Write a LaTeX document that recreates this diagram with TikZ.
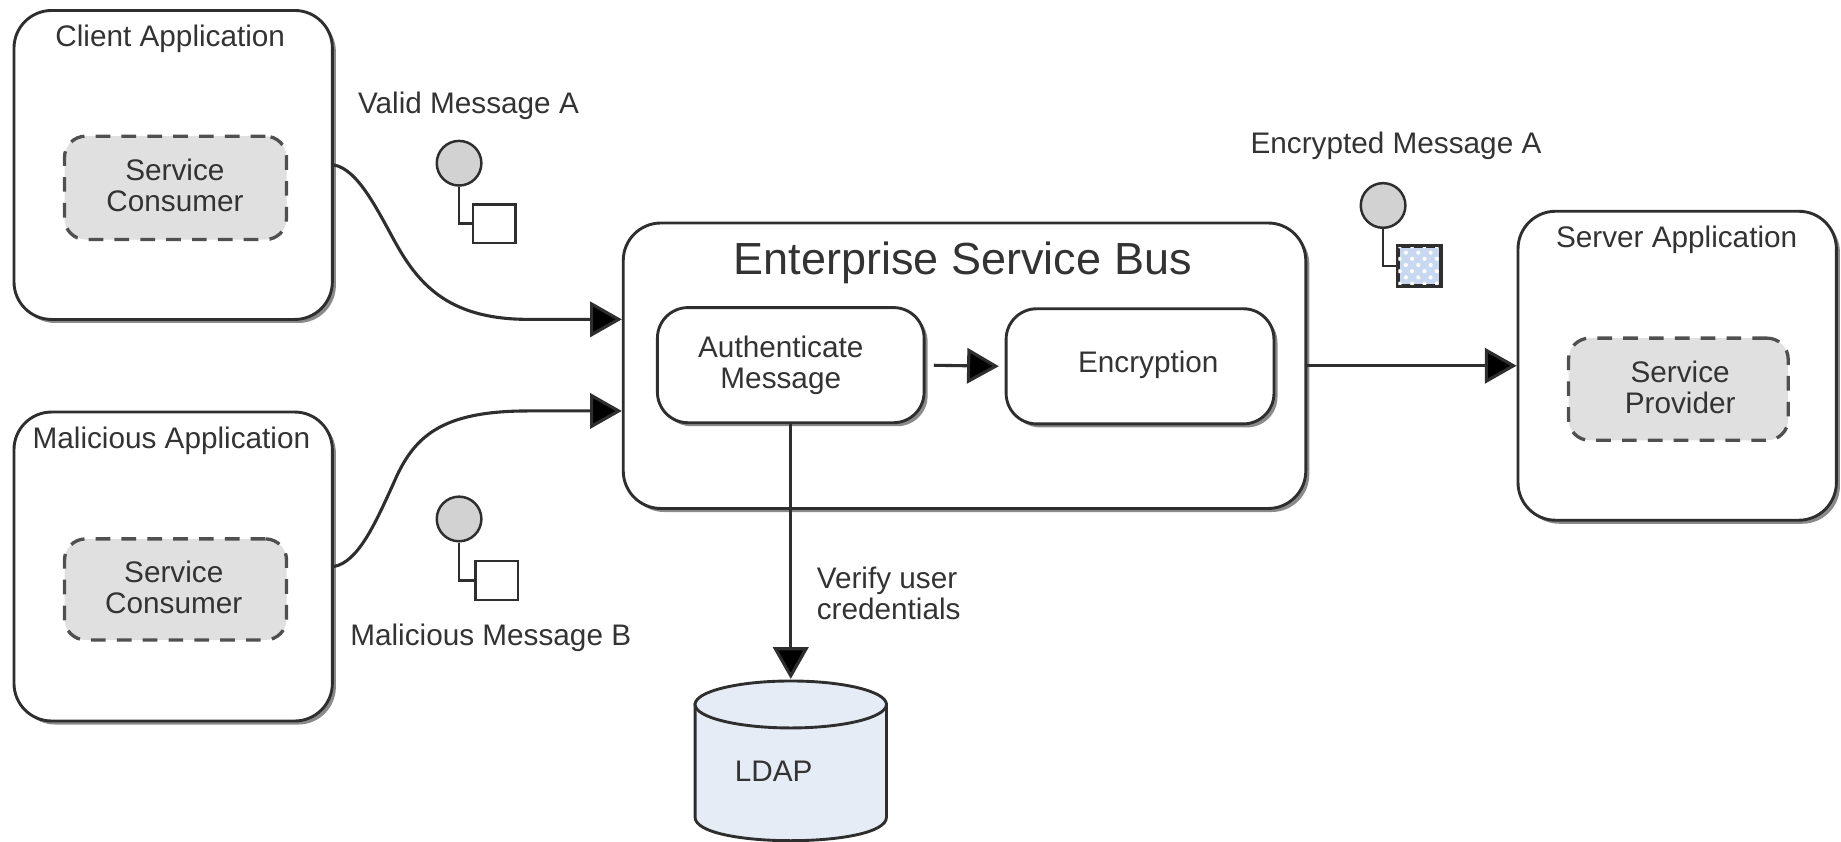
\documentclass[tikz,border=0pt]{standalone}
\usepackage{fontspec}
\setmainfont{Liberation Sans}
\usetikzlibrary{arrows.meta,shadows,patterns}
\definecolor{ink}{HTML}{333333}
\definecolor{linec}{HTML}{2E2E2E}
\definecolor{dashfill}{HTML}{E0E0E0}
\definecolor{dashline}{HTML}{505050}
\definecolor{ballfill}{HTML}{D2D2D2}
\definecolor{dbfill}{HTML}{E6ECF6}
\definecolor{encfill}{HTML}{C8D8F0}
\tikzset{
  lab/.style={text=ink,font=\fontsize{7.2pt}{7.5pt}\selectfont,align=center,inner sep=0pt},
  bigbox/.style={draw=linec,line width=.7pt,fill=white,rounded corners=.32cm,
    drop shadow={shadow xshift=.03cm,shadow yshift=-.03cm,opacity=.65,fill=black!70}},
  innerbox/.style={draw=linec,line width=.7pt,fill=white,rounded corners=.26cm,
    drop shadow={shadow xshift=.03cm,shadow yshift=-.03cm,opacity=.65,fill=black!70}},
  dashbox/.style={draw=dashline,line width=.8pt,fill=dashfill,rounded corners=.18cm,
    dash pattern=on .125cm off .095cm,inner sep=0pt},
  ball/.style={circle,draw=linec,line width=.6pt,fill=ballfill,minimum size=.38cm,inner sep=0pt},
  msgsq/.style={rectangle,draw=linec,line width=.6pt,fill=white,minimum width=.36cm,minimum height=.33cm,inner sep=0pt},
  stem/.style={draw=linec,line width=.6pt},
  flow/.style={draw=linec,line width=.75pt,-{Triangle[length=.27cm,width=.3cm,fill=black]}},
}
\begin{document}
\begin{tikzpicture}[x=.01cm,y=-.01cm]
\useasboundingbox (0,0) rectangle (1568,716.3);
% applications
\node[bigbox,minimum width=2.71cm,minimum height=2.63cm] (client) at (147.5,140.5) {};
\node[lab] (clientT) at (145,33) {Client Application};
\node[dashbox,minimum width=1.89cm,minimum height=.88cm] (consA) at (149.5,160) {};
\node[lab] (consAT) at (149,157.5) {Service\\Consumer};
\node[bigbox,minimum width=2.71cm,minimum height=2.63cm] (mal) at (147.5,482.5) {};
\node[lab] (malT) at (146,375.5) {Malicious Application};
\node[dashbox,minimum width=1.89cm,minimum height=.86cm] (consB) at (149.5,502) {};
\node[lab] (consBT) at (148,500) {Service\\Consumer};
\node[bigbox,minimum width=2.71cm,minimum height=2.63cm] (srv) at (1428.5,311.5) {};
\node[lab] (srvT) at (1428,204.5) {Server Application};
\node[dashbox,minimum width=1.87cm,minimum height=.87cm] (prov) at (1429.5,331.5) {};
\node[lab] (provT) at (1431,330) {Service\\Provider};
% ESB
\node[bigbox,minimum width=5.81cm,minimum height=2.43cm] (esb) at (821.5,311.5) {};
\node[lab,font=\fontsize{10.9pt}{12pt}\selectfont] (esbT) at (820,224) {Enterprise Service Bus};
\node[innerbox,minimum width=2.27cm,minimum height=.98cm] (auth) at (673.5,311) {};
\node[lab] (authT) at (665,311.5) {Authenticate\\Message};
\node[innerbox,minimum width=2.28cm,minimum height=.98cm] (enc) at (971,312) {};
\node[lab] (encT) at (978,310.5) {Encryption};
% LDAP
\node[inner sep=0pt,minimum width=1.63cm,minimum height=1.37cm] (ldap) at (673.5,647.5) {};
\path[draw=linec,line width=.7pt,fill=dbfill] (592,600) -- (592,696)
   .. controls (592,722.7) and (755,722.7) .. (755,696) -- (755,600) -- cycle;
\path[draw=linec,line width=.7pt,fill=dbfill] (673.5,600) ellipse [x radius=81.5,y radius=20];
\node[lab] (ldapT) at (659,656.5) {LDAP};
% messages
\node[lab] (vmT) at (399,90) {Valid Message A};
\node[ball] (b1) at (391,139) {};
\node[msgsq] (s1) at (421,190.5) {};
\draw[stem] (b1.south) |- (s1.west);
\node[lab] (mmT) at (418,543.5) {Malicious Message B};
\node[ball] (b2) at (391,442) {};
\node[msgsq] (s2) at (423,494.5) {};
\draw[stem] (b2.south) |- (s2.west);
\node[lab] (emT) at (1189,124.5) {Encrypted Message A};
\node[ball] (b3) at (1178,175) {};
\node[msgsq,fill=encfill,postaction={pattern=crosshatch dots,pattern color=white}] (s3) at (1209,226.5) {};
\draw[stem] (s3.south west) rectangle (s3.north east);
\draw[stem] (b3.south) |- (s3.west);
\node[lab,align=left,anchor=west] (vuT) at (695,505.5) {Verify user\\credentials};
% connectors
\draw[flow] (client.east) .. controls (305,144) and (322,180) .. (337,207)
   .. controls (358,245) and (385,272) .. (450,272) -- (esb.west |- 0,272);
\draw[flow] (mal.east) .. controls (305,479) and (320,445) .. (335,412)
   .. controls (352,372) and (375,350) .. (450,350) -- (esb.west |- 0,350);
\draw[flow,shorten <=.07cm,shorten >=.05cm] (auth.east) -- (enc.west);
\draw[flow] (esb.east) -- (srv.west);
\draw[flow] (auth.south) -- (ldap.north);
\end{tikzpicture}
\end{document}
